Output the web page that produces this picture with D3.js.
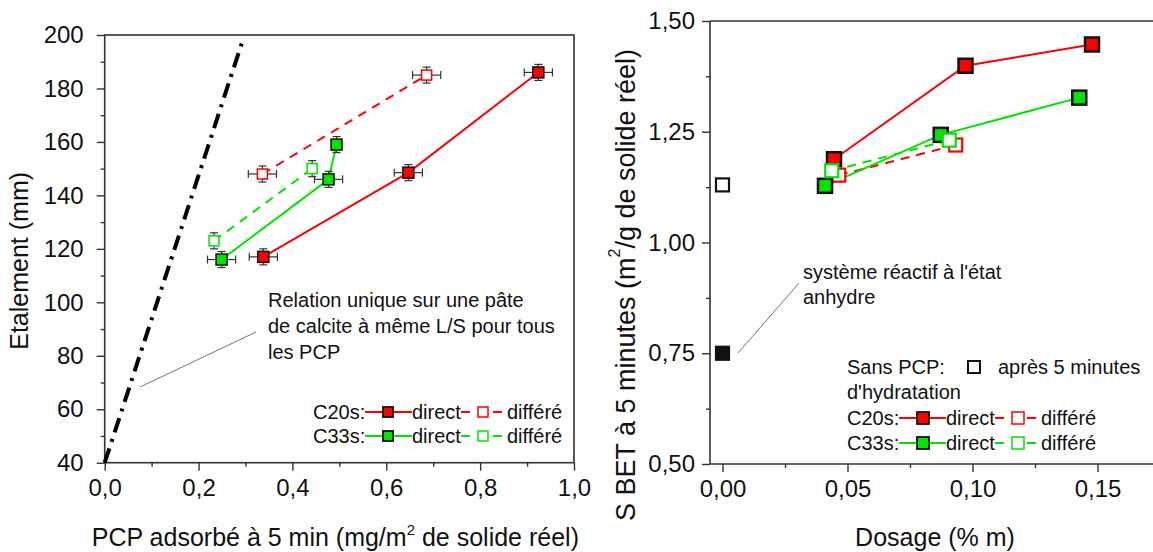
<!DOCTYPE html>
<html>
<head>
<meta charset="utf-8">
<script src="https://cdn.jsdelivr.net/npm/d3@7/dist/d3.min.js"></script>
<style>
  html, body { margin: 0; padding: 0; background: #fff; }
  svg { display: block; font-family: "Liberation Sans", Arial, sans-serif; }
</style>
</head>
<body>
<svg id="chart" width="1153" height="552"></svg>
<script>
// ---------- LEFT PANEL DATA ----------
const leftXTicks = [0, 0.2, 0.4, 0.6, 0.8, 1.0];
const leftXLabels = ["0,0", "0,2", "0,4", "0,6", "0,8", "1,0"];
const leftYTicks = [40, 60, 80, 100, 120, 140, 160, 180, 200];

const pcpC20sDirect = [0.338, 0.647, 0.924];
const etalC20sDirect = [117, 148.5, 186];
const xerrC20sDirect = [0.03, 0.03, 0.03];
const pcpC20sDiff = [0.336, 0.686];
const etalC20sDiff = [148, 185];
const xerrC20sDiff = [0.03, 0.03];
const pcpC33sDirect = [0.249, 0.477, 0.494];
const etalC33sDirect = [116, 146, 159];
const xerrC33sDirect = [0.03, 0.03, 0];
const pcpC33sDiff = [0.233, 0.442];
const etalC33sDiff = [123, 150];
const xerrC33sDiff = [0, 0];
const yerrEtal = 3;

const refLineX = [0, 0.295];
const refLineY = [40, 198.5];

// ---------- RIGHT PANEL DATA ----------
const rightXTicks = [0, 0.05, 0.10, 0.15];
const rightXLabels = ["0,00", "0,05", "0,10", "0,15"];
const rightYTicks = [0.5, 0.75, 1.0, 1.25, 1.5];
const rightYLabels = ["0,50", "0,75", "1,00", "1,25", "1,50"];

const dosC20sDirect = [0.0446, 0.0972, 0.1478];
const sbetC20sDirect = [1.188, 1.399, 1.447];
const dosC20sDiff = [0.0465, 0.0933];
const sbetC20sDiff = [1.152, 1.220];
const dosC33sDirect = [0.041, 0.0873, 0.1427];
const sbetC33sDirect = [1.128, 1.243, 1.327];
const dosC33sDiff = [0.0437, 0.0907];
const sbetC33sDiff = [1.162, 1.231];
const dosSansPcpHydr = [0];
const sbetSansPcpHydr = [1.13];
const dosSansPcpAnhydre = [0];
const sbetSansPcpAnhydre = [0.75];

const RED = "#ff0000";
const GREEN = "#00e400";
const AXIS = "#333";

const svg = d3.select("#chart");

function zip(xs, ys, es) { return xs.map((x, i) => ({x, y: ys[i], e: es ? es[i] : 0})); }

// ======================= LEFT PANEL =======================
const lx = d3.scaleLinear().domain([0, 1]).range([104.7, 574]);
const ly = d3.scaleLinear().domain([40, 200]).range([462.7, 35]);
const L = svg.append("g");

L.append("rect").attr("x", lx(0)).attr("y", ly(200)).attr("width", lx(1) - lx(0)).attr("height", ly(40) - ly(200))
  .attr("fill", "none").attr("stroke", AXIS).attr("stroke-width", 1.6);

const lxAxis = d3.axisBottom(lx).tickValues(leftXTicks).tickFormat((d, i) => leftXLabels[i]).tickSize(8).tickPadding(8);
const lxMinor = d3.axisBottom(lx).tickValues([0.1, 0.3, 0.5, 0.7, 0.9]).tickFormat("").tickSize(4);
const lyAxis = d3.axisLeft(ly).tickValues(leftYTicks).tickSize(8).tickPadding(13);
const lyMinor = d3.axisLeft(ly).tickValues([50, 70, 90, 110, 130, 150, 170, 190]).tickFormat("").tickSize(4);

function styleAxis(g, fs) {
  g.select(".domain").remove();
  g.selectAll("line").attr("stroke", AXIS).attr("stroke-width", 1.4);
  g.selectAll("text").attr("font-size", fs).attr("fill", "#111").attr("font-family", "Liberation Sans, Arial, sans-serif");
}
L.append("g").attr("transform", `translate(0,${ly(40)})`).call(lxAxis).call(g => styleAxis(g, 24));
L.append("g").attr("transform", `translate(0,${ly(40)})`).call(lxMinor).call(g => styleAxis(g, 24));
L.append("g").attr("transform", `translate(${lx(0)},0)`).call(lyAxis).call(g => styleAxis(g, 24));
L.append("g").attr("transform", `translate(${lx(0)},0)`).call(lyMinor).call(g => styleAxis(g, 24));

const lxt = L.append("text").attr("x", (lx(0) + lx(1)) / 2 - 4).attr("y", 546).attr("text-anchor", "middle")
  .attr("font-size", 25).attr("fill", "#111");
lxt.append("tspan").text("PCP adsorbé à 5 min (mg/m");
lxt.append("tspan").text("2").attr("font-size", 15).attr("dy", -11);
lxt.append("tspan").text(" de solide réel)").attr("dy", 11);

L.append("text").attr("transform", `translate(19,${(ly(40) + ly(200)) / 2 + 12}) rotate(-90)`)
  .attr("text-anchor", "middle").attr("dominant-baseline", "central")
  .attr("font-size", 25).attr("fill", "#111").text("Etalement (mm)");

L.append("line").attr("x1", lx(refLineX[0])).attr("y1", ly(refLineY[0])).attr("x2", lx(refLineX[1])).attr("y2", ly(refLineY[1]))
  .attr("stroke", "#000").attr("stroke-width", 4).attr("stroke-dasharray", "15,7,3,7");

L.append("line").attr("x1", 140).attr("y1", 387).attr("x2", 256).attr("y2", 332).attr("stroke", "#777").attr("stroke-width", 1);
const ann = ["Relation unique sur une pâte", "de calcite à même L/S pour tous", "les PCP"];
ann.forEach((t, i) => L.append("text").attr("x", 268).attr("y", 307 + i * 26).attr("font-size", 20).attr("fill", "#111").text(t));

const lline = d3.line().x(d => lx(d.x)).y(d => ly(d.y));

function leftSeries(xs, ys, xe, color, dashed, filled) {
  const data = zip(xs, ys, xe);
  L.append("path").datum(data).attr("d", lline).attr("fill", "none").attr("stroke", color).attr("stroke-width", 2)
    .attr("stroke-dasharray", dashed ? "9,7" : null);
  const g = L.append("g");
  data.forEach(d => {
    const cx = lx(d.x), cy = ly(d.y);
    const y1 = ly(d.y + yerrEtal), y2 = ly(d.y - yerrEtal);
    g.append("line").attr("x1", cx).attr("x2", cx).attr("y1", y1).attr("y2", y2).attr("stroke", "#333").attr("stroke-width", 1.2);
    g.append("line").attr("x1", cx - 4).attr("x2", cx + 4).attr("y1", y1).attr("y2", y1).attr("stroke", "#333").attr("stroke-width", 1.2);
    g.append("line").attr("x1", cx - 4).attr("x2", cx + 4).attr("y1", y2).attr("y2", y2).attr("stroke", "#333").attr("stroke-width", 1.2);
    if (d.e > 0) {
      const x1 = lx(d.x - d.e), x2 = lx(d.x + d.e);
      g.append("line").attr("x1", x1).attr("x2", x2).attr("y1", cy).attr("y2", cy).attr("stroke", "#333").attr("stroke-width", 1.2);
      g.append("line").attr("x1", x1).attr("x2", x1).attr("y1", cy - 4).attr("y2", cy + 4).attr("stroke", "#333").attr("stroke-width", 1.2);
      g.append("line").attr("x1", x2).attr("x2", x2).attr("y1", cy - 4).attr("y2", cy + 4).attr("stroke", "#333").attr("stroke-width", 1.2);
    }
    if (filled) {
      g.append("rect").attr("x", cx - 5.5).attr("y", cy - 5.5).attr("width", 11).attr("height", 11)
        .attr("fill", color).attr("stroke", "#111").attr("stroke-width", 1.5);
    } else {
      g.append("rect").attr("x", cx - 5).attr("y", cy - 5).attr("width", 10).attr("height", 10)
        .attr("fill", "#fff").attr("stroke", color).attr("stroke-width", 1.5);
    }
  });
}
leftSeries(pcpC20sDiff, etalC20sDiff, xerrC20sDiff, RED, true, false);
leftSeries(pcpC20sDirect, etalC20sDirect, xerrC20sDirect, RED, false, true);
leftSeries(pcpC33sDiff, etalC33sDiff, xerrC33sDiff, GREEN, true, false);
leftSeries(pcpC33sDirect, etalC33sDirect, xerrC33sDirect, GREEN, false, true);

function legendRow(G, x, y, name, color, sq, fs) {
  G.append("text").attr("x", x).attr("y", y).attr("dominant-baseline", "central").attr("font-size", fs).attr("fill", "#111").text(name);
  let cx = x + 52;
  G.append("line").attr("x1", cx).attr("x2", cx + 47).attr("y1", y).attr("y2", y).attr("stroke", color).attr("stroke-width", 2);
  G.append("rect").attr("x", cx + 18).attr("y", y - sq / 2).attr("width", sq).attr("height", sq)
    .attr("fill", color).attr("stroke", "#111").attr("stroke-width", 1.8);
  G.append("text").attr("x", cx + 47).attr("y", y).attr("dominant-baseline", "central").attr("font-size", fs).attr("fill", "#111").text("direct");
  let dx = cx + 96;
  G.append("line").attr("x1", dx).attr("x2", dx + 9).attr("y1", y).attr("y2", y).attr("stroke", color).attr("stroke-width", 2);
  G.append("rect").attr("x", dx + 17).attr("y", y - sq / 2).attr("width", sq).attr("height", sq)
    .attr("fill", "#fff").attr("stroke", color).attr("stroke-width", 1.5);
  G.append("line").attr("x1", dx + 32).attr("x2", dx + 41).attr("y1", y).attr("y2", y).attr("stroke", color).attr("stroke-width", 2);
  G.append("text").attr("x", dx + 46).attr("y", y).attr("dominant-baseline", "central").attr("font-size", fs).attr("fill", "#111").text("différé");
}
legendRow(L, 313, 412, "C20s:", RED, 10, 20);
legendRow(L, 313, 436, "C33s:", GREEN, 10, 20);

// ======================= RIGHT PANEL =======================
const rx = d3.scaleLinear().domain([-0.005, 0.18]).range([710, 710 + 0.185 * 2500]);
const ry = d3.scaleLinear().domain([0.5, 1.5]).range([464, 21]);
const R = svg.append("g");

R.append("line").attr("x1", rx(-0.005)).attr("x2", 1153).attr("y1", ry(1.5)).attr("y2", ry(1.5)).attr("stroke", AXIS).attr("stroke-width", 1.6);
R.append("line").attr("x1", rx(-0.005)).attr("x2", 1153).attr("y1", ry(0.5)).attr("y2", ry(0.5)).attr("stroke", AXIS).attr("stroke-width", 1.6);
R.append("line").attr("x1", rx(-0.005)).attr("x2", rx(-0.005)).attr("y1", ry(1.5)).attr("y2", ry(0.5)).attr("stroke", AXIS).attr("stroke-width", 1.6);

const rxAxis = d3.axisBottom(rx).tickValues(rightXTicks).tickFormat((d, i) => rightXLabels[i]).tickSize(8).tickPadding(8);
const rxMinor = d3.axisBottom(rx).tickValues([0.025, 0.075, 0.125]).tickFormat("").tickSize(4);
const ryAxis = d3.axisLeft(ry).tickValues(rightYTicks).tickFormat((d, i) => rightYLabels[i]).tickSize(8).tickPadding(7);
const ryMinor = d3.axisLeft(ry).tickValues([0.625, 0.875, 1.125, 1.375]).tickFormat("").tickSize(4);
R.append("g").attr("transform", `translate(0,${ry(0.5)})`).call(rxAxis).call(g => styleAxis(g, 24));
R.append("g").attr("transform", `translate(0,${ry(0.5)})`).call(rxMinor).call(g => styleAxis(g, 24));
R.append("g").attr("transform", `translate(${rx(-0.005)},0)`).call(ryAxis).call(g => styleAxis(g, 24));
R.append("g").attr("transform", `translate(${rx(-0.005)},0)`).call(ryMinor).call(g => styleAxis(g, 24));

R.append("text").attr("x", 935).attr("y", 546).attr("text-anchor", "middle").attr("font-size", 25).attr("fill", "#111").text("Dosage (% m)");

const ryt = R.append("text").attr("transform", `translate(626,285) rotate(-90)`).attr("text-anchor", "middle")
  .attr("dominant-baseline", "central").attr("font-size", 27).attr("fill", "#111");
ryt.append("tspan").text("S BET à 5 minutes (m");
ryt.append("tspan").text("2").attr("font-size", 16).attr("dy", -12);
ryt.append("tspan").text("/g de solide réel)").attr("dy", 12);

R.append("line").attr("x1", 738).attr("y1", 353).attr("x2", 799).attr("y2", 283).attr("stroke", "#777").attr("stroke-width", 1);
R.append("text").attr("x", 803).attr("y", 272).attr("dominant-baseline", "central").attr("font-size", 20).attr("fill", "#111").text("système réactif à l'état");
R.append("text").attr("x", 803).attr("y", 297).attr("dominant-baseline", "central").attr("font-size", 20).attr("fill", "#111").text("anhydre");

const rline = d3.line().x(d => rx(d.x)).y(d => ry(d.y));
function rightLine(xs, ys, color, dashed) {
  R.append("path").datum(zip(xs, ys)).attr("d", rline).attr("fill", "none").attr("stroke", color).attr("stroke-width", 2)
    .attr("stroke-dasharray", dashed ? "9,7" : null);
}
function rightMarks(xs, ys, fill, stroke, sw, size) {
  R.append("g").selectAll("rect").data(zip(xs, ys)).join("rect")
    .attr("x", d => rx(d.x) - size / 2).attr("y", d => ry(d.y) - size / 2).attr("width", size).attr("height", size)
    .attr("fill", fill).attr("stroke", stroke).attr("stroke-width", sw);
}
rightLine(dosC20sDirect, sbetC20sDirect, RED, false);
rightLine(dosC20sDiff, sbetC20sDiff, RED, true);
rightLine(dosC33sDirect, sbetC33sDirect, GREEN, false);
rightLine(dosC33sDiff, sbetC33sDiff, GREEN, true);
rightMarks(dosC20sDirect, sbetC20sDirect, RED, "#111", 2.5, 14);
rightMarks(dosC20sDiff, sbetC20sDiff, "#fff", RED, 2.2, 13);
rightMarks(dosC33sDirect, sbetC33sDirect, GREEN, "#111", 2.5, 14);
rightMarks(dosC33sDiff, sbetC33sDiff, "#fff", GREEN, 2.2, 13);
rightMarks(dosSansPcpHydr, sbetSansPcpHydr, "#fff", "#111", 2.2, 13);
rightMarks(dosSansPcpAnhydre, sbetSansPcpAnhydre, "#111", "#111", 2.2, 13);

R.append("text").attr("x", 847).attr("y", 367).attr("dominant-baseline", "central").attr("font-size", 20).attr("fill", "#111").text("Sans PCP:");
R.append("rect").attr("x", 968).attr("y", 361).attr("width", 12).attr("height", 12).attr("fill", "#fff").attr("stroke", "#111").attr("stroke-width", 2);
R.append("text").attr("x", 998).attr("y", 367).attr("dominant-baseline", "central").attr("font-size", 20).attr("fill", "#111").text("après 5 minutes");
R.append("text").attr("x", 847).attr("y", 392).attr("dominant-baseline", "central").attr("font-size", 20).attr("fill", "#111").text("d'hydratation");
legendRow(R, 847, 418, "C20s:", RED, 12, 20);
legendRow(R, 847, 443, "C33s:", GREEN, 12, 20);
</script>
</body>
</html>
